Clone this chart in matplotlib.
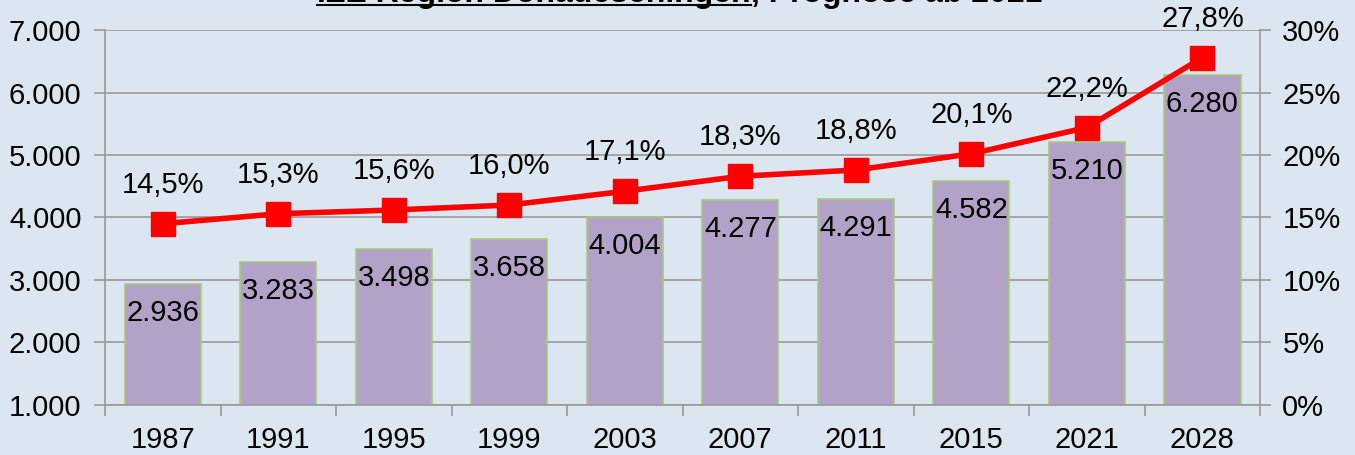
import numpy as np
import matplotlib
matplotlib.use("Agg")
import matplotlib.pyplot as plt
from matplotlib.ticker import FuncFormatter

plt.rcParams['font.family'] = ['Liberation Sans', 'DejaVu Sans']

# --- Daten ---
jahre = ['1987', '1991', '1995', '1999', '2003', '2007', '2011', '2015', '2021', '2028']
anzahl = [2936, 3283, 3498, 3658, 4004, 4277, 4291, 4582, 5210, 6280]
anteil = [14.5, 15.3, 15.6, 16.0, 17.1, 18.3, 18.8, 20.1, 22.2, 27.8]

bg = '#dce6f0'
fs = 21
fig = plt.figure(figsize=(13.55, 4.55), dpi=100)
fig.patch.set_facecolor(bg)
ax = fig.add_axes([0.0775, 0.11, 0.8525, 0.824])
ax.set_facecolor(bg)

x = np.arange(len(jahre))
ax.bar(x, anzahl, width=0.66, bottom=0, color='#b3a2c7', edgecolor='#a9c97c',
       linewidth=1.2, zorder=2)
ax.set_ylim(1000, 7000)
ax.set_xlim(-0.5, len(jahre) - 0.5)
ax.set_yticks(range(1000, 7001, 1000))
ax.yaxis.set_major_formatter(FuncFormatter(lambda v, p: f'{int(v):,}'.replace(',', '.')))
ax.grid(axis='y', color='#999999', linewidth=1.2, zorder=0)
ax.set_axisbelow(True)

ax.set_xticks(x)
ax.set_xticklabels(jahre)
ax.set_xticks(np.arange(-0.5, len(jahre)), minor=True)
ax.tick_params(axis='x', which='major', length=0, pad=15, labelsize=fs)
ax.tick_params(axis='x', which='minor', length=8, color='#999999', width=1.2)
ax.tick_params(axis='y', length=8, color='#999999', width=1.2, labelsize=fs, pad=9)
for s in ['top', 'right']:
    ax.spines[s].set_visible(False)
for s in ['left', 'bottom']:
    ax.spines[s].set_color('#999999')
    ax.spines[s].set_linewidth(1.2)

for xi, v in zip(x, anzahl):
    ax.annotate(f'{v:,}'.replace(',', '.'), (xi, v), xytext=(0, -21),
                textcoords='offset points', ha='center', va='center', fontsize=fs, zorder=3)

ax2 = ax.twinx()
ax2.set_ylim(0, 30)
ax2.set_yticks(range(0, 31, 5))
ax2.yaxis.set_major_formatter(FuncFormatter(lambda v, p: f'{int(v)}%'))
ax2.tick_params(axis='y', length=8, color='#999999', width=1.2, labelsize=fs, pad=8)
for s in ['top', 'left', 'bottom']:
    ax2.spines[s].set_visible(False)
ax2.spines['right'].set_color('#999999')
ax2.spines['right'].set_linewidth(1.2)

ax2.plot(x, anteil, color='#ff0000', linewidth=4, marker='s', markersize=17,
         markerfacecolor='#ff0000', markeredgecolor='#ff0000', zorder=4, clip_on=False)
for xi, v in zip(x, anteil):
    ax2.annotate(f'{v:.1f}%'.replace('.', ','), (xi, v), xytext=(0, 28),
                 textcoords='offset points', ha='center', va='center', fontsize=fs)

# Titel (oben abgeschnitten)
t1 = fig.text(0.234, 1.014, 'IZE Region Donaueschingen', ha='left', va='center',
              fontsize=23, fontweight='bold')
fig.canvas.draw()
bb = t1.get_window_extent()
fig.text(bb.x1 / fig.bbox.width, 1.014, ', Prognose ab 2021', ha='left', va='center',
         fontsize=23, fontweight='bold')
fig.add_artist(plt.Line2D([bb.x0 / fig.bbox.width, bb.x1 / fig.bbox.width],
                          [0.989, 0.989], color='black', linewidth=1.5))

fig.savefig('out.png', dpi=100, facecolor=bg)
